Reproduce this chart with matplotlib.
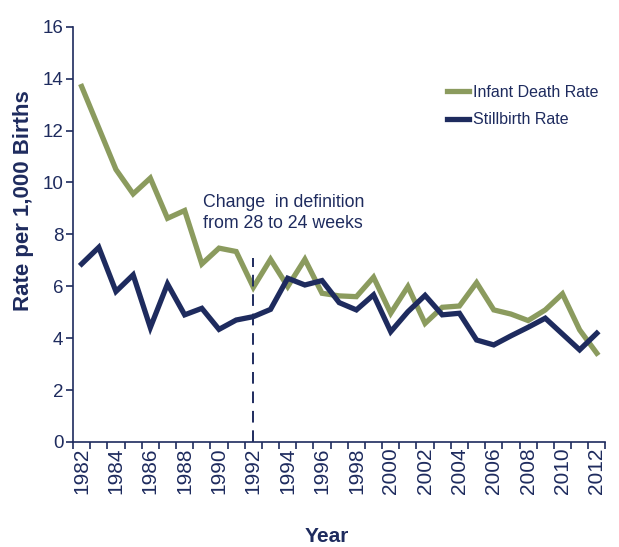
import matplotlib
matplotlib.use("Agg")
import matplotlib.pyplot as plt
import numpy as np

years = list(range(1982, 2013))
infant_death = [13.7, 12.1, 10.5, 9.56, 10.17, 8.62, 8.92, 6.86, 7.47, 7.34, 5.96,
                7.04, 5.99, 7.04, 5.73, 5.63, 5.6, 6.35, 4.96, 5.99, 4.57,
                5.19, 5.24, 6.14, 5.09, 4.93, 4.68, 5.09, 5.71, 4.32, 3.42]
stillbirth = [6.86, 7.5, 5.8, 6.44, 4.41, 6.09, 4.9, 5.15, 4.34, 4.7, 4.83,
              5.11, 6.31, 6.05, 6.22, 5.37, 5.09, 5.67, 4.25, 5.02, 5.65,
              4.9, 4.96, 3.93, 3.74, 4.09, 4.42, 4.77, 4.16, 3.55, 4.19]
series_names = ["Infant Death Rate", "Stillbirth Rate"]
y_ticks = [0, 2, 4, 6, 8, 10, 12, 14, 16]
x_tick_years = list(range(1982, 2013, 2))
change_year = 1992
change_top = 7.1
annotation = "Change  in definition\nfrom 28 to 24 weeks"

GREEN = "#8B9B5E"
NAVY = "#1E2B5E"

plt.rcParams['font.family'] = ['Liberation Sans', 'DejaVu Sans']

fig = plt.figure(figsize=(6.19, 5.47), dpi=100)
ax = fig.add_axes([0.118, 0.192, 0.860, 0.759])

ax.plot(years, infant_death, color=GREEN, lw=3.8, label=series_names[0],
        solid_joinstyle='miter')
ax.plot(years, stillbirth, color=NAVY, lw=3.8, label=series_names[1],
        solid_joinstyle='miter')

ax.vlines(change_year, 0, change_top, colors=NAVY, linestyles=(0, (6, 4)), lw=1.4)
ax.text(1989.08, 9.55, annotation, color=NAVY, fontsize=12.8, ha='left', va='top',
        linespacing=1.27)

ax.set_xlim(years[0] - 0.5, years[-1] + 0.5)
ax.set_ylim(0, 16)
ax.set_yticks(y_ticks)
ax.set_yticklabels([str(v) for v in y_ticks])
ax.set_xticks(x_tick_years)
ax.set_xticklabels([str(y) for y in x_tick_years], rotation=90, fontsize=15)
ax.set_xticks(np.arange(years[0] - 0.5, years[-1] + 1.0, 1.0), minor=True)

ax.tick_params(axis='x', which='major', length=0, pad=4, colors=NAVY)
ax.tick_params(axis='x', which='minor', length=5, width=1.2, direction='out', color=NAVY)
ax.tick_params(axis='y', length=5, width=1.2, direction='out', labelsize=13.5,
               colors=NAVY, pad=2)

for s in ['top', 'right']:
    ax.spines[s].set_visible(False)
for s in ['left', 'bottom']:
    ax.spines[s].set_color(NAVY)
    ax.spines[s].set_linewidth(1.2)

ax.set_ylabel("Rate per 1,000 Births", fontsize=16, fontweight='bold', color=NAVY)
ax.yaxis.set_label_coords(-0.073, 0.581)
ax.set_xlabel("Year", fontsize=15, fontweight='bold', color=NAVY)
ax.xaxis.set_label_coords(0.476, -0.205)

leg = ax.legend(loc='upper left', bbox_to_anchor=(0.703, 0.86), frameon=False,
                fontsize=11.5, handlelength=1.38, handletextpad=0.2, labelspacing=0.78,
                borderpad=0, borderaxespad=0, labelcolor=NAVY)

fig.savefig("out.png", dpi=100)
